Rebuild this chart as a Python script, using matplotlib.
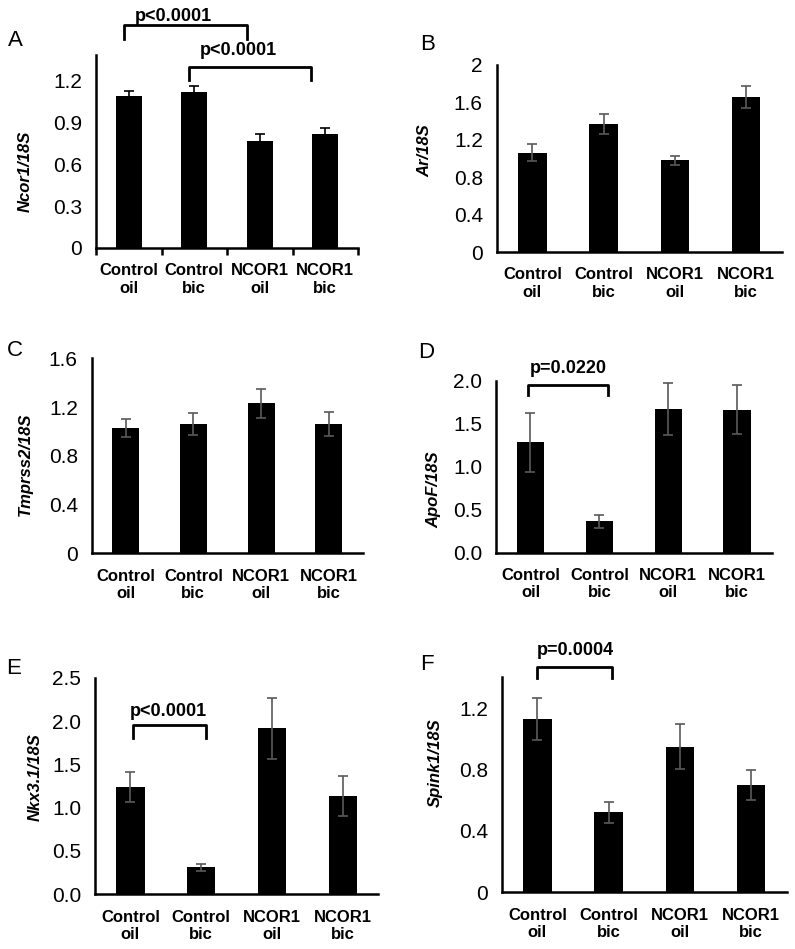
import matplotlib
matplotlib.use('Agg')
import matplotlib.pyplot as plt
import numpy as np

plt.rcParams['font.family'] = ['Liberation Sans', 'DejaVu Sans']

groups = ['Control\noil', 'Control\nbic', 'NCOR1\noil', 'NCOR1\nbic']

ncor1 = [1.09, 1.12, 0.77, 0.82]
ncor1_err = [0.035, 0.04, 0.045, 0.04]
ar = [1.06, 1.37, 0.98, 1.66]
ar_err = [0.09, 0.11, 0.05, 0.115]
tmprss2 = [1.03, 1.06, 1.23, 1.06]
tmprss2_err = [0.074, 0.09, 0.117, 0.096]
apof = [1.285, 0.365, 1.674, 1.666]
apof_err = [0.346, 0.074, 0.307, 0.287]
nkx31 = [1.235, 0.312, 1.915, 1.135]
nkx31_err = [0.173, 0.04, 0.354, 0.234]
spink1 = [1.133, 0.522, 0.95, 0.698]
spink1_err = [0.137, 0.07, 0.146, 0.098]

W, H = 795, 949
fig = plt.figure(figsize=(W / 100, H / 100), dpi=100)


def make_axes(left, right, top, bottom):
    return fig.add_axes([left / W, 1 - bottom / H, (right - left) / W, (bottom - top) / H])


def panel(ax, vals, errs, ymax, yticks, yticklabels, ecolor='#595959'):
    x = np.arange(len(groups))
    ax.bar(x, vals, width=0.4, color='black', zorder=2)
    ax.errorbar(x, vals, yerr=errs, fmt='none', ecolor=ecolor,
                elinewidth=1.2, capsize=3.5, capthick=1.2, zorder=3)
    ax.set_xlim(-0.5, 3.5)
    ax.set_ylim(0, ymax)
    ax.set_yticks(yticks)
    ax.set_yticklabels(yticklabels, fontsize=15)
    ax.set_xticks(x)
    ax.set_xticklabels(groups, fontsize=12, fontweight='bold')
    ax.tick_params(axis='both', length=0)
    ax.tick_params(axis='y', pad=10)
    ax.tick_params(axis='x', pad=11)
    for s in ['top', 'right']:
        ax.spines[s].set_visible(False)
    for s in ['left', 'bottom']:
        ax.spines[s].set_linewidth(1.8)


def bracket(ax, x0, x1, ytop, drop, text, tx, ty):
    ax.plot([x0, x0, x1, x1], [ytop - drop, ytop, ytop, ytop - drop],
            color='black', lw=2, clip_on=False, zorder=4)
    ax.text(tx, ty, text, ha='center', va='center', fontsize=13,
            fontweight='bold', clip_on=False)


# A
axA = make_axes(96, 358, 55, 248)
panel(axA, ncor1, ncor1_err, 1.385, [0, 0.3, 0.6, 0.9, 1.2],
      ['0', '0.3', '0.6', '0.9', '1.2'], ecolor='black')
axA.set_xticks([-0.5, 0.5, 1.5, 2.5, 3.5], minor=True)
axA.tick_params(axis='x', which='minor', length=5, width=1.8, direction='out')
bracket(axA, -0.08, 1.8, 1.60, 0.10, 'p<0.0001', 0.68, 1.66)
bracket(axA, 0.92, 2.78, 1.30, 0.093, 'p<0.0001', 1.68, 1.42)

# B
axB = make_axes(496.7, 781.7, 65, 252)
panel(axB, ar, ar_err, 2.0, [0, 0.4, 0.8, 1.2, 1.6, 2.0],
      ['0', '0.4', '0.8', '1.2', '1.6', '2'])

# C
axC = make_axes(91.7, 362.7, 358.3, 553.3)
panel(axC, tmprss2, tmprss2_err, 1.6, [0, 0.4, 0.8, 1.2, 1.6],
      ['0', '0.4', '0.8', '1.2', '1.6'])

# D
axD = make_axes(496, 771.7, 381, 552.7)
panel(axD, apof, apof_err, 2.0, [0, 0.5, 1.0, 1.5, 2.0],
      ['0.0', '0.5', '1.0', '1.5', '2.0'])
bracket(axD, -0.04, 1.13, 1.953, 0.116, 'p=0.0220', 0.55, 2.14)

# E
axE = make_axes(95, 378.3, 677.7, 894.3)
panel(axE, nkx31, nkx31_err, 2.5, [0, 0.5, 1.0, 1.5, 2.0, 2.5],
      ['0.0', '0.5', '1.0', '1.5', '2.0', '2.5'])
bracket(axE, 0.03, 1.07, 1.954, 0.146, 'p<0.0001', 0.54, 2.108)

# F
axF = make_axes(501.7, 786.7, 676.7, 892.3)
panel(axF, spink1, spink1_err, 1.406, [0, 0.4, 0.8, 1.2],
      ['0', '0.4', '0.8', '1.2'])
bracket(axF, 0.0, 1.045, 1.472, 0.076, 'p=0.0004', 0.54, 1.576)

# y labels
ylabels = [('Ncor1/18S', 25.5, 171), ('Ar/18S', 425, 151),
           ('Tmprss2/18S', 25.5, 464), ('ApoF/18S', 434, 489.5),
           ('Nkx3.1/18S', 35, 777), ('Spink1/18S', 435, 763)]
for lab, px, py in ylabels:
    fig.text(px / W, 1 - py / H, lab, rotation=90, ha='center', va='center',
             fontsize=12, fontweight='bold', fontstyle='italic')

# panel letters
letters = [('A', 15, 40), ('B', 428, 45), ('C', 15, 351),
           ('D', 426, 352), ('E', 14, 668), ('F', 427, 665)]
for lab, px, py in letters:
    fig.text(px / W, 1 - py / H, lab, ha='center', va='center', fontsize=16)

fig.savefig('out.png', dpi=100)
